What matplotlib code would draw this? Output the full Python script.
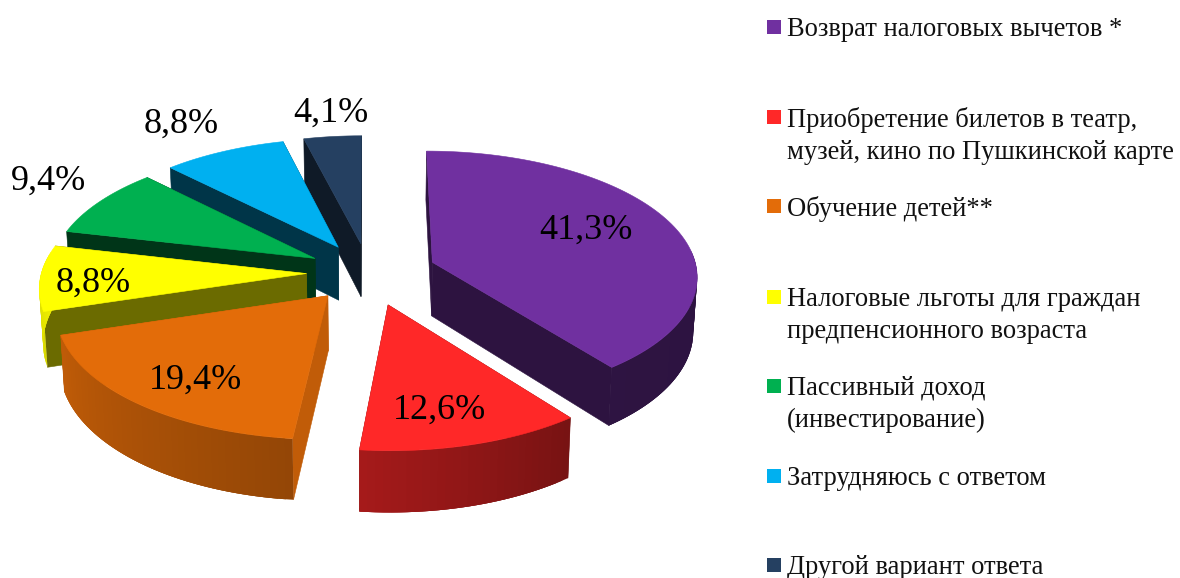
# --** coding: utf-8 **--
import numpy as np
import matplotlib
matplotlib.use('Agg')
import matplotlib.pyplot as plt
from matplotlib.patches import Polygon, Rectangle

# данные
names = ['Возврат налоговых вычетов *',
         'Приобретение билетов в театр,\nмузей, кино по Пушкинской карте',
         'Обучение детей**',
         'Налоговые льготы для граждан\nпредпенсионного возраста',
         'Пассивный доход\n(инвестирование)',
         'Затрудняюсь с ответом',
         'Другой вариант ответа']
values = [41.3, 12.6, 19.4, 8.8, 9.4, 8.8, 4.1]
colors = ['#7030A0', '#FF2828', '#E36C09', '#FFFF00', '#00B050', '#00B0F0', '#254061']
wall_shade = [0.4, 0.45, 0.85, 0.42, 0.3, 0.3, 0.4]
label_xy = [(586, 230), (439, 410), (195, 380), (93, 283), (49, 181), (181, 124), (331, 113)]
legend_y = [27, 117, 206, 297, 386, 476, 565]

# геометрия псевдо-3D круга
cx, cy = 368.5, 272.5
R = 265
q = 0.469
k = 0.10
depth = 54
explode = [68, 70, 63, 62, 62, 63, 63]


def project(x, z, h=0.0):
    s = 1 / (1 + k * z / R)
    return cx + s * x * (1 - 0.012 * h), cy - s * q * z + s * depth * h


def shade(c, f):
    return tuple(np.array(matplotlib.colors.to_rgb(c)) * f)


def rim_shade(t):
    return np.interp(np.degrees(t), [90, 142, 143, 186, 253, 283],
                     [0.4, 0.41, 0.47, 0.65, 0.85, 0.95])


fig = plt.figure(figsize=(11.8, 5.78), dpi=100)
ax = fig.add_axes([0, 0, 1, 1])
ax.set_xlim(0, 1180)
ax.set_ylim(578, 0)
ax.axis('off')

angles = np.cumsum([0] + values) / sum(values) * 2 * np.pi

for i in reversed(range(len(values))):
    t0, t1 = angles[i], angles[i + 1]
    mid = (t0 + t1) / 2
    ox, oz = explode[i] * np.sin(mid), explode[i] * np.cos(mid)
    tt = np.linspace(t0, t1, max(int((t1 - t0) * 40), 8))
    xs = ox + R * np.sin(tt)
    zs = oz + R * np.cos(tt)
    top_arc = [project(x, z) for x, z in zip(xs, zs)]
    bot_arc = [project(x, z, 1) for x, z in zip(xs, zs)]
    apex, apex_b = project(ox, oz), project(ox, oz, 1)
    wall = shade(colors[i], wall_shade[i])

    # боковые грани
    for a, b in [(top_arc[0], bot_arc[0]), (top_arc[-1], bot_arc[-1])]:
        ax.add_patch(Polygon([apex, a, b, apex_b], fc=wall, ec=wall, lw=0.4))

    # внешняя стенка с градиентом, заднюю часть не рисуем
    n = len(tt)
    for j in range(n - 1):
        if np.cos(tt[j]) > 0.12:
            continue
        j2 = min(j + 3, n - 1)
        c = shade(colors[i], rim_shade((tt[j] + tt[j + 1]) / 2))
        ax.add_patch(Polygon(top_arc[j:j2 + 1] + bot_arc[j:j2 + 1][::-1], fc=c, ec='none'))

    # верх
    ax.add_patch(Polygon([apex] + top_arc, fc=colors[i], ec=colors[i], lw=0.4))

for v, (x, y) in zip(values, label_xy):
    ax.text(x, y, f'{v:.1f}%'.replace('.', ','), ha='center', va='center',
            family='Liberation Serif', fontsize=26, color='black')

for name, c, y in zip(names, colors, legend_y):
    ax.add_patch(Rectangle((767, y - 7), 14, 14, fc=c, ec='none'))
    ax.text(787, y - 10, name, ha='left', va='top', family='Liberation Serif',
            fontsize=19.1, color='#111111', linespacing=1.37)

fig.savefig('out.png', dpi=100)
